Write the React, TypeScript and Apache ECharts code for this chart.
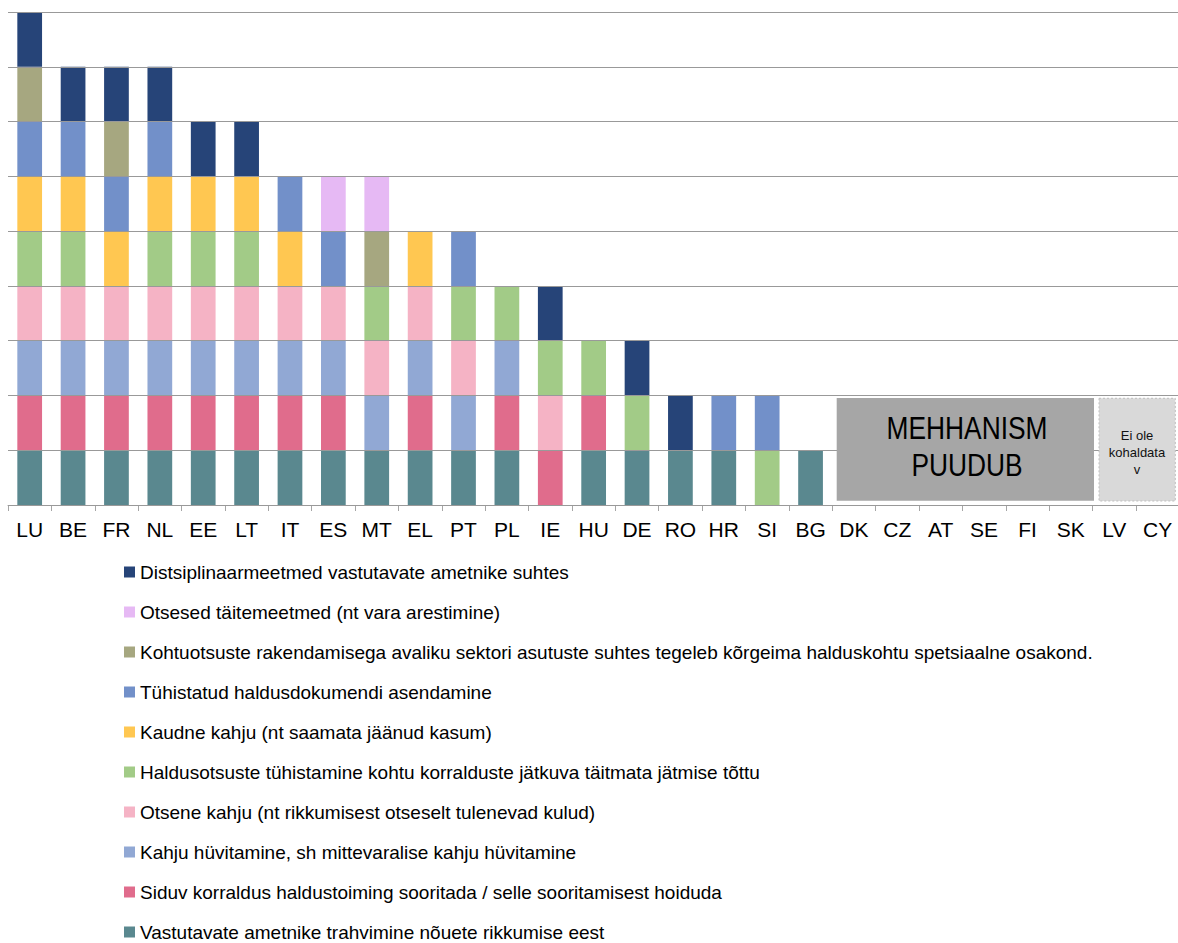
import React, { useEffect, useRef } from "react";
import * as echarts from "echarts";

const countries = ["LU", "BE", "FR", "NL", "EE", "LT", "IT", "ES", "MT", "EL", "PT", "PL", "IE", "HU", "DE", "RO", "HR", "SI", "BG", "DK", "CZ", "AT", "SE", "FI", "SK", "LV", "CY"];

// stacking order, bottom to top
const seriesNames = [
  "Vastutavate ametnike trahvimine nõuete rikkumise eest",
  "Siduv korraldus haldustoiming sooritada / selle sooritamisest hoiduda",
  "Kahju hüvitamine, sh mittevaralise kahju hüvitamine",
  "Otsene kahju (nt rikkumisest otseselt tulenevad kulud)",
  "Haldusotsuste tühistamine kohtu korralduste jätkuva täitmata jätmise tõttu",
  "Kaudne kahju (nt saamata jäänud kasum)",
  "Tühistatud haldusdokumendi asendamine",
  "Kohtuotsuste rakendamisega avaliku sektori asutuste suhtes tegeleb kõrgeima halduskohtu spetsiaalne osakond.",
  "Otsesed täitemeetmed (nt vara arestimine)",
  "Distsiplinaarmeetmed vastutavate ametnike suhtes",
];

const colors = ["#5a888f", "#e06c8c", "#91a8d4", "#f5b3c5", "#a2cb87", "#ffc751", "#7290c9", "#a6a780", "#e6b9f4", "#264478"];

//                 LU BE FR NL EE LT IT ES MT EL PT PL IE HU DE RO HR SI BG DK CZ AT SE FI SK LV CY
const fines =     [1, 1, 1, 1, 1, 1, 1, 1, 1, 1, 1, 1, 0, 1, 1, 1, 1, 0, 1, 0, 0, 0, 0, 0, 0, 0, 0];
const binding =   [1, 1, 1, 1, 1, 1, 1, 1, 0, 1, 0, 1, 1, 1, 0, 0, 0, 0, 0, 0, 0, 0, 0, 0, 0, 0, 0];
const damages =   [1, 1, 1, 1, 1, 1, 1, 1, 1, 1, 1, 1, 0, 0, 0, 0, 0, 0, 0, 0, 0, 0, 0, 0, 0, 0, 0];
const direct =    [1, 1, 1, 1, 1, 1, 1, 1, 1, 1, 1, 0, 1, 0, 0, 0, 0, 0, 0, 0, 0, 0, 0, 0, 0, 0, 0];
const annulment = [1, 1, 0, 1, 1, 1, 0, 0, 1, 0, 1, 1, 1, 1, 1, 0, 0, 1, 0, 0, 0, 0, 0, 0, 0, 0, 0];
const indirect =  [1, 1, 1, 1, 1, 1, 1, 0, 0, 1, 0, 0, 0, 0, 0, 0, 0, 0, 0, 0, 0, 0, 0, 0, 0, 0, 0];
const replace =   [1, 1, 1, 1, 0, 0, 1, 1, 0, 0, 1, 0, 0, 0, 0, 0, 1, 1, 0, 0, 0, 0, 0, 0, 0, 0, 0];
const court =     [1, 0, 1, 0, 0, 0, 0, 0, 1, 0, 0, 0, 0, 0, 0, 0, 0, 0, 0, 0, 0, 0, 0, 0, 0, 0, 0];
const enforce =   [0, 0, 0, 0, 0, 0, 0, 1, 1, 0, 0, 0, 0, 0, 0, 0, 0, 0, 0, 0, 0, 0, 0, 0, 0, 0, 0];
const discipl =   [1, 1, 1, 1, 1, 1, 0, 0, 0, 0, 0, 0, 1, 0, 1, 1, 0, 0, 0, 0, 0, 0, 0, 0, 0, 0, 0];

const values = [fines, binding, damages, direct, annulment, indirect, replace, court, enforce, discipl];

const FONT = "'Liberation Sans', Arial, sans-serif";

export default function App() {
  const ref = useRef<HTMLDivElement>(null);
  useEffect(() => {
    if (!ref.current) return;
    const chart = echarts.init(ref.current, undefined, { renderer: "svg" });
    chart.setOption({
      animation: false,
      backgroundColor: "#fff",
      textStyle: { fontFamily: FONT },
      grid: { left: 8, top: 12, width: 1171.3, height: 493, containLabel: false },
      legend: {
        orient: "vertical",
        left: 124,
        top: 562,
        padding: 0,
        itemWidth: 11,
        itemHeight: 11,
        itemGap: 20,
        icon: "rect",
        selectedMode: false,
        data: seriesNames.slice().reverse(),
        textStyle: { fontSize: 19, color: "#000", fontFamily: FONT, lineHeight: 20 },
      },
      xAxis: {
        type: "category",
        data: countries,
        axisLine: { lineStyle: { color: "#a6a6a6", width: 1 } },
        axisTick: { show: true, length: 6, lineStyle: { color: "#a6a6a6" } },
        axisLabel: { fontSize: 21, color: "#000", margin: 14, interval: 0, fontFamily: FONT },
      },
      yAxis: {
        type: "value",
        min: 0,
        max: 9,
        interval: 1,
        z: 3,
        axisLabel: { show: false },
        axisLine: { show: false },
        axisTick: { show: false },
        splitLine: { lineStyle: { color: "#999", width: 1 } },
      },
      series: seriesNames.map((name, i) => ({
        name,
        type: "bar",
        stack: "total",
        barWidth: "57%",
        itemStyle: { color: colors[i] },
        data: values[i].map((v) => (v ? v : "-")),
      })),
      graphic: [
        {
          type: "rect",
          z: 10,
          shape: { x: 836.7, y: 398, width: 257.3, height: 102.7 },
          style: { fill: "#a6a6a6" },
        },
        {
          type: "text",
          z: 11,
          x: 967,
          y: 447,
          scaleX: 0.85,
          style: {
            text: "MEHHANISM\nPUUDUB",
            fontSize: 31,
            lineHeight: 37,
            fontFamily: FONT,
            fill: "#000",
            align: "center",
            verticalAlign: "middle",
          },
        },
        {
          type: "rect",
          z: 10,
          shape: { x: 1099, y: 398.3, width: 76.3, height: 102.7 },
          style: { fill: "#d9d9d9", stroke: "#bfbfbf", lineWidth: 1, lineDash: [2, 2] },
        },
        {
          type: "text",
          z: 11,
          x: 1137,
          y: 452,
          style: {
            text: "Ei ole\nkohaldata\nv",
            fontSize: 13,
            lineHeight: 17,
            fontFamily: FONT,
            fill: "#111",
            align: "center",
            verticalAlign: "middle",
          },
        },
      ],
    });
    return () => chart.dispose();
  }, []);
  return (
    <div style={{ position: "fixed", left: 0, top: 0, width: 1178, height: 943, overflow: "hidden", background: "#fff" }}>
      <div ref={ref} style={{ width: 1190, height: 943 }} />
    </div>
  );
}
